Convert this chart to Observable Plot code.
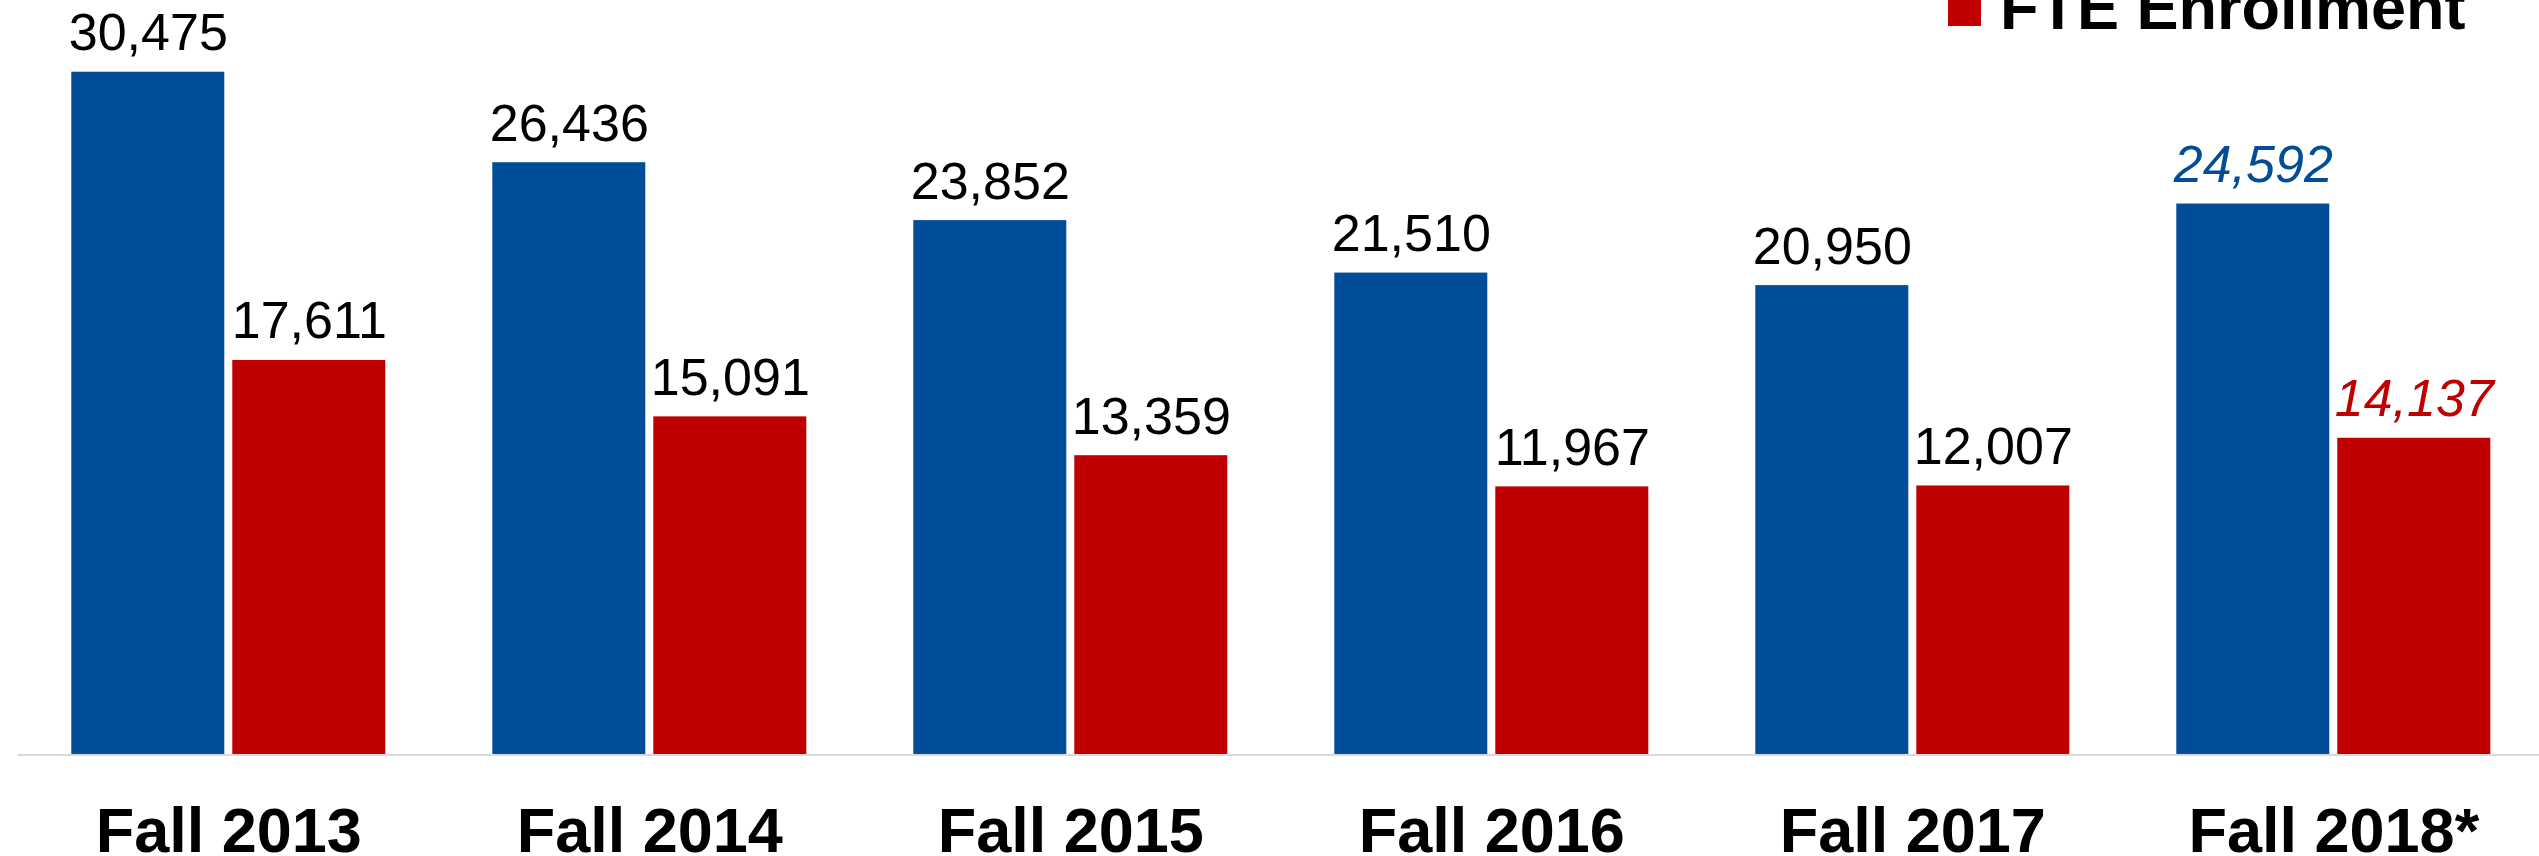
<!DOCTYPE html>
<html>
<head>
<meta charset="utf-8">
<script src="https://cdn.jsdelivr.net/npm/d3@7"></script>
<script src="https://cdn.jsdelivr.net/npm/@observablehq/plot@0.6"></script>
<style>
  html, body { margin: 0; padding: 0; background: #fff; }
  #wrap { position: relative; width: 2539px; height: 856px; overflow: hidden;
          font-family: "Liberation Sans", Arial, sans-serif; }
  #chart svg { display: block; }
  g[aria-label^="fx-axis"] text { font-weight: 700; font-size: 63px; fill: #000; }
  .lg-swatch { position: absolute; }
  .lg-text { position: absolute; font-weight: 700; font-size: 63px; line-height: 63px;
             white-space: nowrap; color: #000; }
</style>
</head>
<body>
<div id="wrap">
  <div id="chart"></div>
  <div id="legend"></div>
</div>
<script>
// ---- data ----
const years = ["Fall 2013", "Fall 2014", "Fall 2015", "Fall 2016", "Fall 2017", "Fall 2018*"];
const headcount = [30475, 26436, 23852, 21510, 20950, 24592];
const fte = [17611, 15091, 13359, 11967, 12007, 14137];
const seriesNames = ["Headcount Enrollment", "FTE Enrollment"];
const seriesColors = ["#024D98", "#C00000"];
const projectedYears = ["Fall 2018*"];

// ---- build a long table ----
const seriesValues = [headcount, fte];
const rows = [];
years.forEach((yr, i) => {
  seriesNames.forEach((s, j) => {
    rows.push({year: yr, series: s, value: seriesValues[j][i], projected: projectedYears.includes(yr)});
  });
});

const fmt = d3.format(",");
const labelOpts = {
  fx: "year", x: "series", y: "value",
  text: d => fmt(d.value),
  lineAnchor: "bottom", dy: -22, fontSize: 52
};

const marks = [
  Plot.barY(rows, {fx: "year", x: "series", y: "value", fill: "series"}),
  Plot.ruleY([0], {stroke: "#D9D9D9", strokeWidth: 2}),
  Plot.text(rows.filter(d => !d.projected), {...labelOpts, fill: "#000"})
];
seriesNames.forEach((s, j) => {
  marks.push(Plot.text(rows.filter(d => d.projected && d.series === s),
    {...labelOpts, fill: seriesColors[j], fontStyle: "italic"}));
});

const chart = Plot.plot({
  width: 2539,
  height: 856,
  marginTop: 0,
  marginBottom: 101.5,
  marginLeft: 17.8,
  marginRight: -4.8,
  style: {fontFamily: '"Liberation Sans", Arial, sans-serif', background: "#fff", overflow: "visible"},
  fx: {domain: years, padding: 0, round: false, label: null, tickSize: 0, tickPadding: 52, axis: "bottom"},
  x: {domain: seriesNames, paddingInner: 0.0497, paddingOuter: 0.3323, round: false, axis: null},
  y: {domain: [0, 33676], axis: null},
  color: {domain: seriesNames, range: seriesColors},
  marks
});
document.getElementById("chart").appendChild(chart);

// ---- legend (top-right, partly cut off like the reference) ----
const legend = document.getElementById("legend");
const sw = document.createElement("div");
sw.className = "lg-swatch";
Object.assign(sw.style, {left: "1948px", top: "-7px", width: "33px", height: "33px", background: seriesColors[1]});
legend.appendChild(sw);
const tx = document.createElement("div");
tx.className = "lg-text";
tx.textContent = seriesNames[1];
Object.assign(tx.style, {left: "2000px", top: "-24px"});
legend.appendChild(tx);
</script>
</body>
</html>
